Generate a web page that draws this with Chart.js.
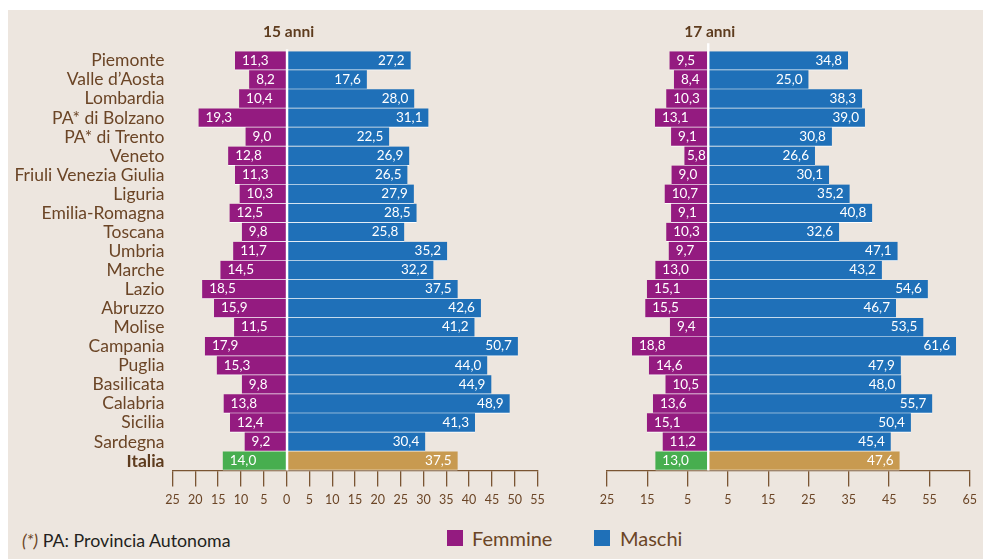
<!DOCTYPE html>
<html lang="it">
<head>
<meta charset="UTF-8">
<title>15 anni - 17 anni</title>
<script src="https://cdn.jsdelivr.net/npm/chart.js"></script>
<style>
    body {
        margin: 0;
        width: 983px;
        height: 559px;
        position: relative;
        overflow: hidden;
        background: #fff;
        font-family: Lato, sans-serif;
    }
    .sfondo {
        position: absolute;
        left: 8px; top: 10px; right: 0; bottom: 0;
        background: #ede6df;
    }
    #grafico15 { position: absolute; left: 0; top: 0; }
    #grafico17 { position: absolute; left: 591px; top: 0; }
    .nota {
        position: absolute;
        left: 22px; top: 530px;
        font-size: 17.8px; line-height: 21px;
        color: #231f20;
        white-space: nowrap;
    }
    .nota i { color: #6b4526; }
    .voce {
        position: absolute;
        top: 526px;
        font-size: 20px; line-height: 24px;
        color: #6b4526;
        white-space: nowrap;
    }
    .quadro {
        position: absolute;
        top: 530px;
        width: 16px; height: 16px;
    }
</style>
</head>
<body>
<div class="sfondo"></div>
<canvas id="grafico15" width="560" height="520"></canvas>
<canvas id="grafico17" width="392" height="520"></canvas>

<div class="nota"><i>(*)</i> PA: Provincia Autonoma</div>
<div class="quadro" style="left:447px; background:#941b80;"></div>
<div class="voce" style="left:472px;">Femmine</div>
<div class="quadro" style="left:594px; background:#1f70b8;"></div>
<div class="voce" style="left:620px;">Maschi</div>

<script>
// dati
const regioni = ['Piemonte', 'Valle d\u2019Aosta', 'Lombardia', 'PA* di Bolzano', 'PA* di Trento', 'Veneto',
    'Friuli Venezia Giulia', 'Liguria', 'Emilia-Romagna', 'Toscana', 'Umbria', 'Marche', 'Lazio',
    'Abruzzo', 'Molise', 'Campania', 'Puglia', 'Basilicata', 'Calabria', 'Sicilia', 'Sardegna', 'Italia'];

const femmine15 = [11.3, 8.2, 10.4, 19.3, 9.0, 12.8, 11.3, 10.3, 12.5, 9.8, 11.7, 14.5, 18.5, 15.9, 11.5, 17.9, 15.3, 9.8, 13.8, 12.4, 9.2, 14.0];
const maschi15  = [27.2, 17.6, 28.0, 31.1, 22.5, 26.9, 26.5, 27.9, 28.5, 25.8, 35.2, 32.2, 37.5, 42.6, 41.2, 50.7, 44.0, 44.9, 48.9, 41.3, 30.4, 37.5];
const femmine17 = [9.5, 8.4, 10.3, 13.1, 9.1, 5.8, 9.0, 10.7, 9.1, 10.3, 9.7, 13.0, 15.1, 15.5, 9.4, 18.8, 14.6, 10.5, 13.6, 15.1, 11.2, 13.0];
const maschi17  = [34.8, 25.0, 38.3, 39.0, 30.8, 26.6, 30.1, 35.2, 40.8, 32.6, 47.1, 43.2, 54.6, 46.7, 53.5, 61.6, 47.9, 48.0, 55.7, 50.4, 45.4, 47.6];

// assi: min, max, passo
const asse15 = [-25, 55, 5];
const asse17 = [-25, 65, 10];

const ultimo = regioni.length - 1;
const marrone = '#6b4526';

function formato(v) {
    return v.toFixed(1).replace('.', ',');
}

// etichette sulle barre, linea dello zero e titolo
const etichette = {
    id: 'etichette',
    afterDatasetsDraw(chart, args, opts) {
        const ctx = chart.ctx;
        const area = chart.chartArea;
        const x0 = chart.scales.x.getPixelForValue(0);
        ctx.save();

        ctx.strokeStyle = '#ffffff';
        ctx.lineWidth = 2.4;
        ctx.beginPath();
        ctx.moveTo(x0 + 0.5, area.top - opts.sopra);
        ctx.lineTo(x0 + 0.5, area.bottom);
        ctx.stroke();

        ctx.font = '13.5px Lato';
        ctx.fillStyle = '#ffffff';
        ctx.textBaseline = 'middle';
        chart.data.datasets.forEach((ds, i) => {
            chart.getDatasetMeta(i).data.forEach((bar, j) => {
                const v = ds.data[j];
                const testo = formato(Math.abs(v));
                const sx = Math.min(bar.x, bar.base);
                const dx = Math.max(bar.x, bar.base);
                const w = ctx.measureText(testo).width;
                const y = bar.y - 0.5;
                if (v < 0) {
                    if (w + 12 < dx - sx) {
                        ctx.textAlign = 'left';
                        ctx.fillText(testo, sx + 7, y);
                    } else {
                        ctx.textAlign = 'right';
                        ctx.fillText(testo, dx - 2, y);
                    }
                } else {
                    ctx.textAlign = 'right';
                    ctx.fillText(testo, dx - 6, y);
                }
            });
        });

        ctx.font = 'bold 15.5px Lato';
        ctx.fillStyle = '#5e3c1e';
        ctx.textAlign = 'center';
        ctx.fillText(opts.titolo, x0 + 2, 32);
        ctx.restore();
    }
};

function grafico(id, femmine, maschi, asse, titolo, conEtichette, padding, sopra) {
    return new Chart(document.getElementById(id), {
        type: 'bar',
        data: {
            labels: regioni,
            datasets: [{
                label: 'Femmine',
                data: femmine.map(v => -v),
                backgroundColor: c => c.dataIndex === ultimo ? '#47ae4f' : '#941b80'
            }, {
                label: 'Maschi',
                data: maschi,
                backgroundColor: c => c.dataIndex === ultimo ? '#c89a50' : '#1f70b8'
            }]
        },
        options: {
            responsive: false,
            animation: false,
            indexAxis: 'y',
            layout: { padding: padding },
            datasets: {
                bar: {
                    barPercentage: 1,
                    categoryPercentage: 1,
                    borderColor: '#ffffff',
                    borderWidth: { top: 0, bottom: 1, left: 0, right: 0 },
                    borderSkipped: false
                }
            },
            plugins: {
                legend: { display: false },
                tooltip: { enabled: false },
                etichette: { titolo: titolo, sopra: sopra }
            },
            scales: {
                x: {
                    stacked: true,
                    min: asse[0],
                    max: asse[1],
                    afterFit: a => { a.height = 49.5; },
                    grid: {
                        drawOnChartArea: false,
                        drawTicks: true,
                        tickLength: 16,
                        color: '#7a5533',
                        lineWidth: 1.3
                    },
                    border: { display: true, color: '#7a5533', width: 1.3 },
                    ticks: {
                        stepSize: asse[2],
                        padding: 6,
                        color: marrone,
                        font: { family: 'Lato', size: 12.5 },
                        callback: v => Math.abs(v)
                    }
                },
                y: {
                    stacked: true,
                    display: conEtichette,
                    afterFit: a => { a.width = conEtichette ? 172.5 : 0; },
                    grid: { display: false, drawTicks: false },
                    border: { display: false },
                    ticks: {
                        autoSkip: false,
                        padding: 8,
                        color: c => c.index === ultimo ? '#5e3c1e' : marrone,
                        font: c => ({ family: 'Lato', size: 17.5, weight: c.index === ultimo ? 'bold' : 'normal' })
                    }
                }
            }
        },
        plugins: [etichette]
    });
}

grafico('grafico15', femmine15, maschi15, asse15, '15 anni', true, { top: 51.2, bottom: 0, left: 0, right: 22.5 }, 2);
grafico('grafico17', femmine17, maschi17, asse17, '17 anni', false, { top: 51.2, bottom: 0, left: 16, right: 9.5 }, 8);
</script>
</body>
</html>
